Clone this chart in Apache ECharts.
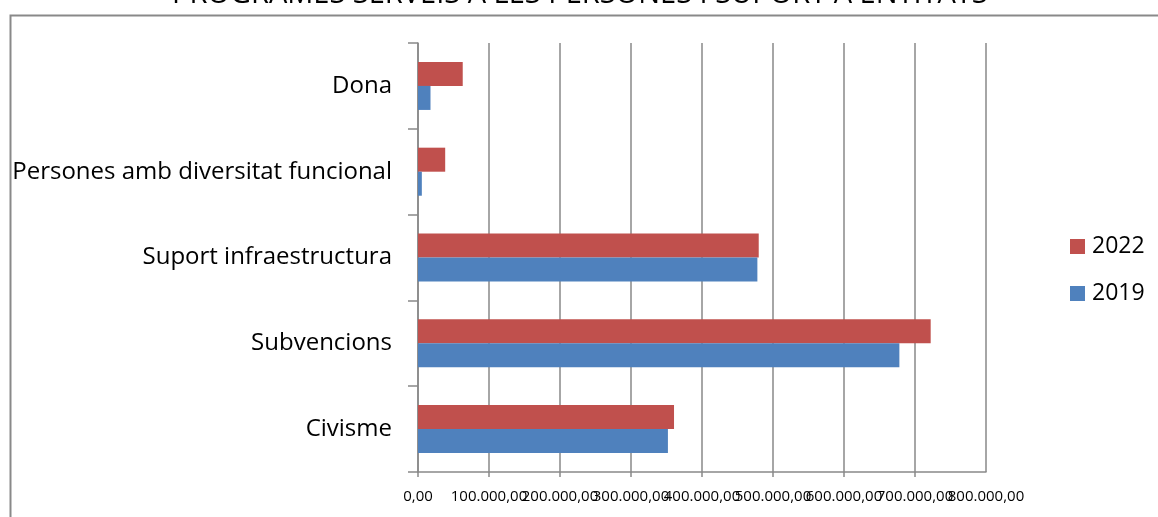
<!DOCTYPE html>
<html>
<head>
<meta charset="utf-8">
<script src="https://cdn.jsdelivr.net/npm/echarts@6/dist/echarts.min.js"></script>
<style>
  html, body { margin: 0; padding: 0; background: #fff; }
  #chart { width: 1158px; height: 517px; }
</style>
</head>
<body>
<div id="chart"></div>
<script>
  // dades
  const categories = ['Civisme', 'Subvencions', 'Suport infraestructura', 'Persones amb diversitat funcional', 'Dona'];
  const values2019 = [352000, 678000, 478000, 5400, 17600];
  const values2022 = [360600, 722100, 479900, 38300, 63000];
  const seriesNames = ['2022', '2019'];
  const xMin = 0, xMax = 800000, xStep = 100000;
  const titleText = 'PROGRAMES SERVEIS A LES PERSONES I SUPORT A ENTITATS';

  const FONT = 'Open Sans';
  const gris = '#898989';

  // 100000 -> "100.000,00"
  function formatEur(v) {
    const parts = Math.round(v).toString().replace(/\B(?=(\d{3})+(?!\d))/g, '.');
    return parts + ',00';
  }

  const labelBase = {
    color: '#000',
    fontSize: 15,
    fontFamily: FONT,
    margin: 17,
    hideOverlap: false
  };

  const mychart = echarts.init(document.getElementById('chart'));
  mychart.setOption({
    animation: false,
    textStyle: { fontFamily: FONT },
    title: {
      text: titleText,
      left: 167,
      top: -25,
      textStyle: { fontFamily: FONT, fontSize: 29, fontWeight: 'normal', color: '#000' }
    },
    graphic: [{
      type: 'rect',
      left: 8,
      top: 13,
      z: -1,
      shape: { width: 1300, height: 700 },
      style: { fill: 'none', stroke: gris, lineWidth: 2 }
    }],
    legend: {
      orient: 'vertical',
      left: 1065,
      top: 230,
      itemWidth: 15,
      itemHeight: 15,
      itemGap: 24,
      icon: 'rect',
      data: ['2022', '2019'],
      textStyle: { fontFamily: FONT, fontSize: 23, color: '#000', padding: [0, 0, 0, 2] }
    },
    grid: {
      left: 418,
      right: 172,
      top: 43,
      bottom: 45,
      containLabel: false
    },
    xAxis: [
      {
        type: 'value',
        min: xMin,
        max: xMax,
        interval: xStep,
        axisLine: { show: true, lineStyle: { color: gris, width: 1.5 } },
        axisTick: { show: true, length: 5, lineStyle: { color: gris, width: 1.5 } },
        axisLabel: Object.assign({}, labelBase, {
          showMinLabel: true,
          showMaxLabel: false,
          formatter: formatEur
        }),
        splitLine: { show: true, lineStyle: { color: gris, width: 1.5 } }
      },
      {
        // només l'etiqueta final (la primera l'amaga per solapament)
        type: 'value',
        position: 'bottom',
        min: xMin,
        max: xMax,
        interval: xStep,
        axisLine: { show: false },
        axisTick: { show: false },
        splitLine: { show: false },
        axisLabel: Object.assign({}, labelBase, {
          showMinLabel: false,
          showMaxLabel: true,
          formatter: v => (v === xMax ? formatEur(v) : '')
        })
      }
    ],
    yAxis: {
      type: 'category',
      data: categories,
      axisLine: { show: true, lineStyle: { color: gris, width: 1.5 } },
      axisTick: { show: true, length: 10, lineStyle: { color: gris, width: 1.5 } },
      axisLabel: { color: '#000', fontSize: 24, fontFamily: FONT, margin: 26, interval: 0, padding: [4, 0, 0, 0] },
      splitLine: { show: false }
    },
    series: [
      {
        name: seriesNames[0],
        type: 'bar',
        data: values2022,
        barGap: '0%',
        barCategoryGap: '44%',
        itemStyle: { color: '#C0504D' }
      },
      {
        name: seriesNames[1],
        type: 'bar',
        data: values2019,
        barGap: '0%',
        barCategoryGap: '44%',
        itemStyle: { color: '#4F81BD' }
      }
    ]
  });
</script>
</body>
</html>
